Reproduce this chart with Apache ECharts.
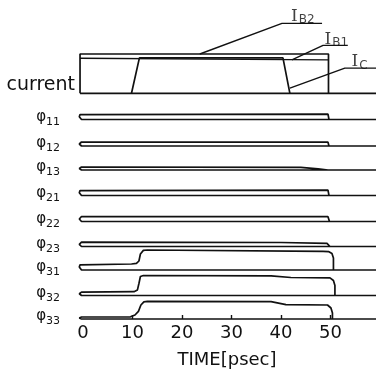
<!DOCTYPE html>
<html><head><meta charset="utf-8">
<script src="https://cdn.jsdelivr.net/npm/echarts@6/dist/echarts.min.js"></script>
<style>html,body{margin:0;padding:0;background:#fff}#c{width:376px;height:371px}</style>
</head><body><div id="c"></div>
<script>
// ---- data (time in psec, levels relative) ----
const timeTicks = [0, 10, 20, 30, 40, 50];
const tickMarks = [10, 20, 30, 40, 50];
const xMin = -1;
const xMax = 59.2;

const currentBase = [[-0.6, 0], [59.2, 0]];
const currentIB2 = [[-0.6, 0], [-0.6, 1], [49.6, 1], [49.6, 0]];
const currentIB1 = [[-0.6, 0.89], [49.6, 0.85]];
const currentIC = [[9.8, 0], [11.4, 0.9], [40.4, 0.9], [41.8, 0]];

const leaderIB2 = [[23.6, 1.0], [40.2, 1.78], [48.3, 1.78]];
const leaderIB1 = [[42.2, 0.85], [48.5, 1.22], [53.5, 1.22]];
const leaderIC = [[41.8, 0.13], [52.9, 0.64], [59.2, 0.64]];
const calloutNames = ['IB2', 'IB1', 'IC'];
const calloutPos = [[44.4, 1.96], [51.2, 1.39], [55.9, 0.81]];

const rowNames = ['11', '12', '13', '21', '22', '23', '31', '32', '33'];
const phi11 = [[-0.3, 0.28], [49.5, 0.27], [49.7, 0]];
const phi12 = [[-0.3, 0.2], [49.5, 0.19], [49.7, 0]];
const phi13 = [[-0.3, 0.15], [44, 0.13], [47.5, 0.06], [49.5, 0]];
const phi21 = [[-0.3, 0.28], [49.5, 0.27], [49.7, 0]];
const phi22 = [[-0.3, 0.25], [49.5, 0.24], [49.8, 0]];
const phi23 = [[-0.3, 0.22], [40, 0.2], [49.3, 0.16], [49.9, 0]];
const phi31 = [[-0.3, 0.29], [9.8, 0.3], [10.8, 0.33], [11.3, 0.45], [11.6, 0.8], [12.2, 0.98], [13, 1.0], [48.5, 0.93], [49.6, 0.92], [50.3, 0.82], [50.6, 0.6], [50.6, 0]];
const phi32 = [[-0.3, 0.17], [10.3, 0.19], [11.0, 0.28], [11.3, 0.6], [11.6, 0.95], [12.2, 1.0], [38, 0.98], [42, 0.9], [49.9, 0.88], [50.6, 0.75], [50.9, 0.5], [50.9, 0]];
const phi33 = [[-0.3, 0.1], [9.6, 0.11], [10.5, 0.2], [11.2, 0.38], [11.7, 0.7], [12.3, 0.86], [13, 0.88], [38, 0.87], [41, 0.72], [49.4, 0.7], [50.1, 0.55], [50.4, 0.3], [50.4, 0]];
const rowSignals = [phi11, phi12, phi13, phi21, phi22, phi23, phi31, phi32, phi33];

// ---- layout / style ----
const INK = '#111';
const FONT = 'DejaVu Sans';
const LW = 1.7;
const rowBase = [119.5, 146, 170, 195.5, 221.5, 246.5, 270, 295.5, 319];
const gridLeft = 78.05;
const grids = [{ left: gridLeft, right: 0, top: 54, height: 39.3 }];
rowBase.forEach(b => grids.push({ left: gridLeft, right: 0, top: b - 20, height: 20 }));
const last = grids.length - 1;

const phiRich = {
  p: { fontFamily: FONT, fontSize: 15, color: INK, lineHeight: 18, verticalAlign: 'bottom' },
  s: { fontFamily: FONT, fontSize: 11, color: INK, lineHeight: 18, verticalAlign: 'bottom', padding: [0, 0, -3, 0] }
};

const xAxes = grids.map((g, i) => {
  const isLast = i === last;
  return {
    gridIndex: i, type: 'value', min: xMin, max: xMax, show: isLast,
    splitLine: { show: false },
    axisLine: { show: false },
    axisTick: { show: isLast, inside: true, length: 4, customValues: tickMarks, lineStyle: { color: INK, width: 1.4 } },
    axisLabel: { show: isLast, customValues: timeTicks, margin: 5, fontFamily: FONT, fontSize: 18, color: INK },
    name: isLast ? 'TIME[psec]' : '', nameLocation: 'middle', nameGap: 32,
    nameTextStyle: { fontFamily: FONT, fontSize: 18, color: INK }
  };
});

const yAxes = grids.map((g, i) => ({
  gridIndex: i, type: 'value', min: 0, max: 1,
  splitLine: { show: false }, axisLine: { show: false }, axisTick: { show: false },
  axisLabel: i === 0 ? {
    customValues: [0.2], margin: 3, fontFamily: FONT, fontSize: 19, color: INK,
    formatter: () => 'current'
  } : {
    customValues: [0.2], margin: 18,
    formatter: () => '{p|φ}{s|' + rowNames[i - 1] + '}', rich: phiRich
  }
}));

function lineSeries(data, gi, w) {
  return {
    type: 'line', xAxisIndex: gi, yAxisIndex: gi, data: data,
    symbol: 'none', showSymbol: false, clip: false, silent: true, animation: false,
    lineStyle: { color: INK, width: w || LW }
  };
}
function rowPath(sig) {
  const t0 = sig[0][0], l0 = sig[0][1];
  return [[xMax, 0], [t0, 0], [t0 - 0.3, l0 * 0.12], [t0 - 0.45, l0 * 0.5], [t0 - 0.3, l0 * 0.88]].concat(sig);
}

const series = [
  lineSeries(currentBase, 0), lineSeries(currentIB2, 0), lineSeries(currentIB1, 0, 1.4), lineSeries(currentIC, 0),
  lineSeries(leaderIB2, 0, 1.4), lineSeries(leaderIB1, 0, 1.4), lineSeries(leaderIC, 0, 1.4),
  {
    type: 'scatter', xAxisIndex: 0, yAxisIndex: 0, clip: false, silent: true, animation: false,
    symbolSize: 1, itemStyle: { color: 'rgba(0,0,0,0)' },
    data: calloutNames.map((n, k) => ({ name: n, value: calloutPos[k] })),
    label: {
      show: true, position: 'inside',
      formatter: p => '{i|I}{s|' + p.name.slice(1) + '}',
      rich: {
        i: { fontFamily: 'DejaVu Serif', fontSize: 17, color: INK, lineHeight: 18, verticalAlign: 'bottom', padding: [0, 1, 0, 0] },
        s: { fontFamily: FONT, fontSize: 12, color: INK, lineHeight: 18, verticalAlign: 'bottom', padding: [0, 0, -1, 0] }
      }
    }
  }
];
rowSignals.forEach((sig, k) => series.push(lineSeries(rowPath(sig), k + 1)));

const chart = echarts.init(document.getElementById('c'));
chart.setOption({
  backgroundColor: '#fff', animation: false,
  grid: grids, xAxis: xAxes, yAxis: yAxes, series: series
});
</script></body></html>
